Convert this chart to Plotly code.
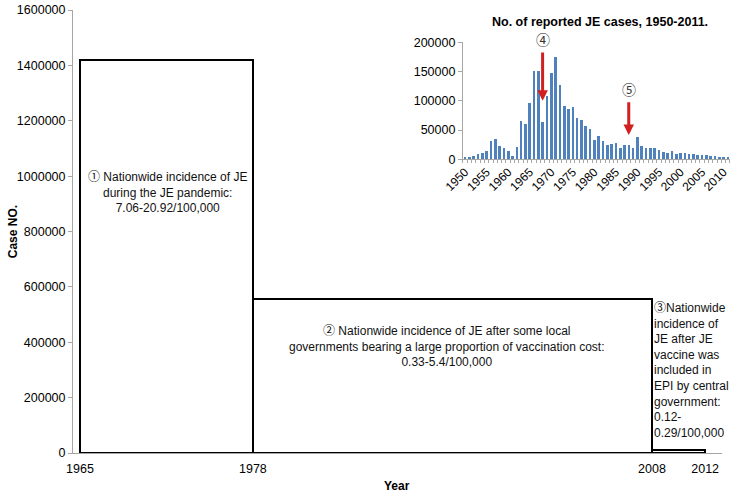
import plotly.graph_objects as go

# ---------------- data ----------------
period_start = [1965, 1978, 2008]
period_end = [1978, 2008, 2012]
period_cases = [1420000, 555000, 11000]
period_tick_labels = ["1965", "1978", "2008", "2012"]

CJK = "font-family:'Noto Sans CJK SC'"
period_texts = [
    f"<span style=\"{CJK}\">①</span> Nationwide incidence of JE<br>during the JE pandemic:<br>7.06-20.92/100,000",
    f"<span style=\"{CJK}\">②</span> Nationwide incidence of JE after some local<br>governments bearing a large proportion of vaccination cost:<br>0.33-5.4/100,000",
    f"<span style=\"{CJK}\">③</span>Nationwide<br>incidence of<br>JE after JE<br>vaccine was<br>included in<br>EPI by central<br>government:<br>0.12-<br>0.29/100,000",
]

inset_years = list(range(1950, 2012))
inset_cases = [
    2000, 3000, 5000, 9000, 11000, 14000, 31000, 34000, 23000, 18000,   # 1950-1959
    14000, 5000, 21000, 65000, 59000, 96000, 151000, 150000, 64000, 108000,  # 1960-1969
    147000, 175000, 127000, 90000, 86000, 89000, 70000, 67000, 56000, 51000,  # 1970-1979
    32000, 40000, 31000, 24000, 26000, 28000, 18000, 24000, 24000, 18000,  # 1980-1989
    37000, 23000, 19000, 18000, 19000, 15000, 12000, 11000, 13000, 9000,   # 1990-1999
    11000, 10000, 9000, 8000, 7000, 6000, 7500, 5000, 4500, 4000,          # 2000-2009
    2500, 1800,                                                            # 2010-2011
]
inset_tick_years = list(range(1950, 2011, 5))
inset_title = "No. of reported JE cases, 1950-2011."

arrow_labels = ["④", "⑤"]
arrow_years = [1968, 1988]
arrow_tip = [100000, 41500]
arrow_tail = [185000, 100000]

# ---------------- figure ----------------
FONT = "Liberation Sans, Arial, sans-serif"
AXIS_GRAY = "#A6A6A6"

fig = go.Figure()

fig.add_trace(go.Bar(
    x=period_start,
    y=period_cases,
    width=[e - s for s, e in zip(period_start, period_end)],
    offset=0,
    marker=dict(color="white", line=dict(color="black", width=2)),
    xaxis="x", yaxis="y", showlegend=False, hoverinfo="skip",
))

fig.add_trace(go.Bar(
    x=inset_years,
    y=inset_cases,
    width=0.6,
    marker=dict(color="#4F81BD", line=dict(width=0)),
    xaxis="x2", yaxis="y2", showlegend=False,
))

annotations = []
text_pos = [(0.1435, 0.591, "center", "center"),
            (0.565, 0.244, "center", "center"),
            (0.8746, 0.1907, "left", "left")]
for t, (px, py, xa, al) in zip(period_texts, text_pos):
    annotations.append(dict(text=t, x=px, y=py, xref="paper", yref="paper",
                            xanchor=xa, yanchor="middle", align=al, showarrow=False,
                            font=dict(family=FONT, size=12, color="#111111")))

annotations.append(dict(text="<b>" + inset_title + "</b>", x=0.796, y=0.973,
                        xref="paper", yref="paper", xanchor="center", yanchor="middle",
                        showarrow=False, font=dict(family=FONT, size=12.5, color="black")))

annotations.append(dict(text="<b>Case NO.</b>", x=-0.091, y=0.5, xref="paper", yref="paper",
                        textangle=-90, showarrow=False, xanchor="center", yanchor="middle",
                        font=dict(family=FONT, size=12, color="black")))
annotations.append(dict(text="<b>Year</b>", x=0.49, y=-0.074, xref="paper", yref="paper",
                        showarrow=False, xanchor="center", yanchor="middle",
                        font=dict(family=FONT, size=12, color="black")))

for lab, yr, tip, tail in zip(arrow_labels, arrow_years, arrow_tip, arrow_tail):
    annotations.append(dict(x=yr, y=tip, ax=yr, ay=tail, xref="x2", yref="y2",
                            axref="x2", ayref="y2", showarrow=True, text="",
                            arrowhead=2, arrowsize=0.7, arrowwidth=3,
                            arrowcolor="#D02020", standoff=0))
    annotations.append(dict(x=yr, y=tail, xref="x2", yref="y2", text=lab,
                            showarrow=False, yanchor="bottom", yshift=0,
                            font=dict(family="Noto Sans CJK SC", size=14, color="#333333")))

fig.update_layout(
    width=745, height=501,
    margin=dict(l=73, r=10, t=10, b=48, autoexpand=False),
    paper_bgcolor="white", plot_bgcolor="white",
    font=dict(family=FONT, size=12.5, color="black"),
    bargap=0,
    xaxis=dict(
        domain=[0, 0.9804], range=[1964.474, 2013.27], automargin=False,
        tickmode="array", tickvals=[period_start[0]] + period_end, ticktext=period_tick_labels,
        showline=True, linecolor=AXIS_GRAY, linewidth=1,
        ticks="outside", ticklen=4, tickcolor="rgba(0,0,0,0)", showgrid=False,
        zeroline=False,
    ),
    yaxis=dict(
        range=[0, 1600000], dtick=200000, tickformat="d", automargin=False,
        showline=True, linecolor=AXIS_GRAY, linewidth=1, ticks="outside", ticklen=4,
        tickcolor=AXIS_GRAY, showgrid=False, zeroline=False, ticklabeloverflow="allow",
    ),
    xaxis2=dict(
        domain=[0.589, 0.9924], anchor="y2", range=[1949.5, 2011.5], automargin=False,
        tickmode="array", tickvals=inset_tick_years, tickangle=-45,
        showline=True, linecolor=AXIS_GRAY, linewidth=1, ticks="", showgrid=False,
        zeroline=False, tickfont=dict(size=12),
        minor=dict(tickmode="linear", tick0=1949.5, dtick=1, ticks="outside",
                   ticklen=3, tickcolor=AXIS_GRAY, showgrid=False),
    ),
    yaxis2=dict(
        domain=[0.663, 0.927], anchor="x2", range=[0, 200000], dtick=50000, tickformat="d",
        automargin=False,
        showline=True, linecolor=AXIS_GRAY, linewidth=1, ticks="outside", ticklen=4,
        tickcolor=AXIS_GRAY, showgrid=False, zeroline=False, tickfont=dict(size=12.5),
    ),
    annotations=annotations,
)

fig.write_html("out.html", config={"displayModeBar": False},
               post_script="document.body.style.margin='0px';")
